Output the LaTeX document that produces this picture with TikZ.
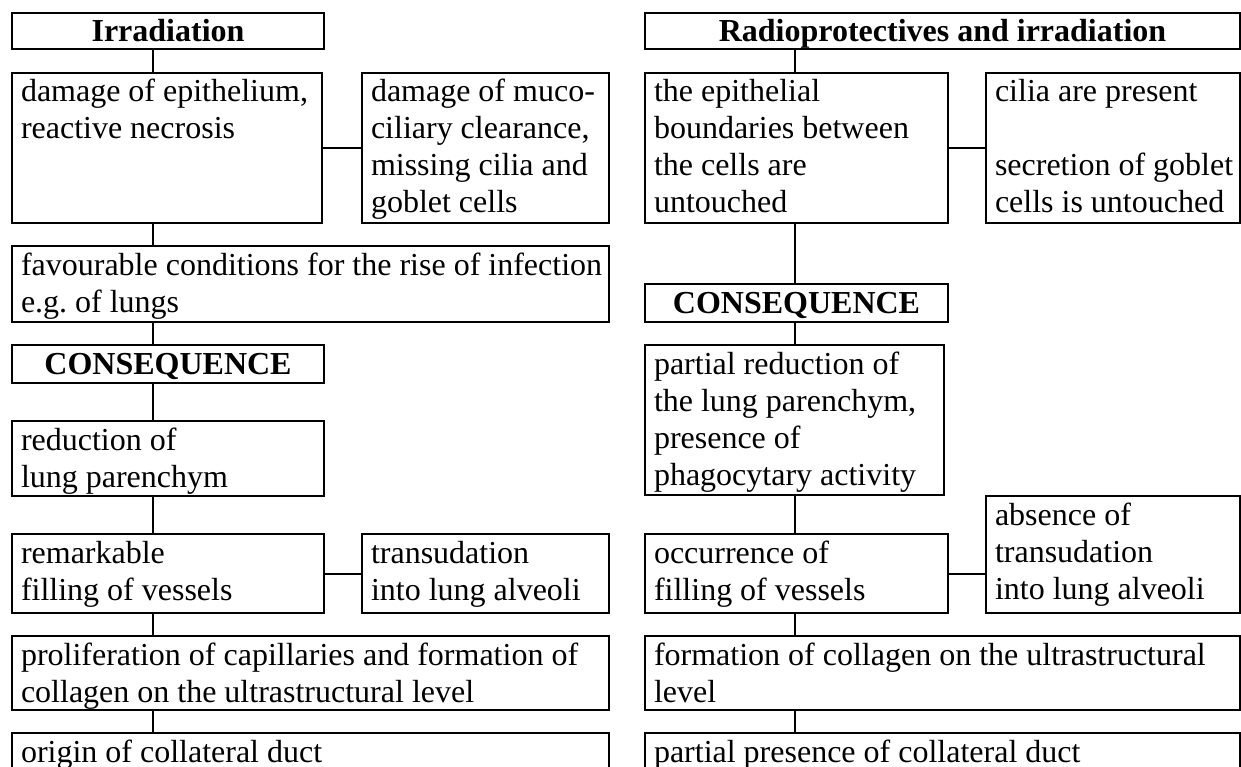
\documentclass[tikz,border=0pt]{standalone}
\usepackage{fontspec}
\setmainfont{Liberation Serif}
\frenchspacing

% top-aligned text of a box: width, height (pt), text
\newcommand{\celltext}[3]{\parbox[c][#2pt][t]{\dimexpr#1pt-12pt\relax}{\fontsize{32pt}{37pt}\selectfont\raggedright\leftskip=3pt\rule{0pt}{29pt}#3}}
\newcommand{\celltitle}[3]{\parbox[c][#2pt][t]{\dimexpr#1pt-12pt\relax}{\fontsize{32pt}{37pt}\selectfont\bfseries\centering\rule{0pt}{29pt}#3}}

\begin{document}
\begin{tikzpicture}[x=1pt, y=-1pt,
    cell/.style={draw, line width=2pt, anchor=north west, inner xsep=6pt, inner ysep=0pt},
    link/.style={line width=2pt},
]
\useasboundingbox (0,0) rectangle (1241,767);
\clip (0,0) rectangle (1241,767);
\coordinate (lx) at (153,0);
\coordinate (rx) at (795,0);

% Irradiation
\node[cell] (irr) at (11,12) {\celltitle{312}{36}{Irradiation}};
\node[cell] (epi) at (11,72) {\celltext{310}{150}{damage of epithelium,\\ reactive necrosis}};
\node[cell] (muco) at (361,72) {\celltext{247}{150}{damage of muco-\\ ciliary clearance,\\ missing cilia and\\ goblet cells}};
\node[cell] (fav) at (11,245) {\celltext{597}{76}{favourable conditions for the rise of infection\\ e.g. of lungs}};
\node[cell] (consl) at (11,344) {\celltitle{312}{38}{CONSEQUENCE}};
\node[cell] (red) at (11,420) {\celltext{312}{75}{reduction of\\ lung parenchym}};
\node[cell] (rem) at (11,533) {\celltext{312}{79}{remarkable\\ filling of vessels}};
\node[cell] (trans) at (361,533) {\celltext{247}{79}{transudation\\ into lung alveoli}};
\node[cell] (prol) at (11,635) {\celltext{597}{74}{proliferation of capillaries and formation of\\ collagen on the ultrastructural level}};
\node[cell] (orig) at (11,732) {\celltext{597}{60}{origin of collateral duct}};

\draw[link] (irr.south -| lx) -- (epi.north -| lx);
\draw[link] (epi.east) -- (muco.west);
\draw[link] (epi.south -| lx) -- (fav.north -| lx);
\draw[link] (fav.south -| lx) -- (consl.north -| lx);
\draw[link] (consl.south -| lx) -- (red.north -| lx);
\draw[link] (red.south -| lx) -- (rem.north -| lx);
\draw[link] (rem.east) -- (trans.west);
\draw[link] (rem.south -| lx) -- (prol.north -| lx);
\draw[link] (prol.south -| lx) -- (orig.north -| lx);

% Radioprotectives and irradiation
\node[cell] (radio) at (644,12) {\celltitle{595}{36}{Radioprotectives and irradiation}};
\node[cell] (epith) at (644,72) {\celltext{303}{150}{the epithelial\\ boundaries between\\ the cells are\\ untouched}};
\node[cell] (cilia) at (985,72) {\celltext{254}{150}{cilia are present\\ \mbox{}\\ secretion of goblet\\ cells is untouched}};
\node[cell] (consr) at (644,283) {\celltitle{303}{38}{CONSEQUENCE}};
\node[cell] (pred) at (644,344) {\celltext{299}{150}{partial reduction of\\ the lung parenchym,\\ presence of\\ phagocytary activity}};
\node[cell] (absn) at (985,495) {\celltext{254}{117}{absence of\\ transudation\\ into lung alveoli}};
\node[cell] (occ) at (644,533) {\celltext{303}{79}{occurrence of\\ filling of vessels}};
\node[cell] (form) at (644,635) {\celltext{595}{74}{formation of collagen on the ultrastructural\\ level}};
\node[cell] (pres) at (644,732) {\celltext{595}{60}{partial presence of collateral duct}};

\draw[link] (radio.south -| rx) -- (epith.north -| rx);
\draw[link] (epith.east) -- (cilia.west);
\draw[link] (epith.south -| rx) -- (consr.north -| rx);
\draw[link] (consr.south -| rx) -- (pred.north -| rx);
\draw[link] (pred.south -| rx) -- (occ.north -| rx);
\draw[link] (occ.east) -- (occ.east -| absn.west);
\draw[link] (occ.south -| rx) -- (form.north -| rx);
\draw[link] (form.south -| rx) -- (pres.north -| rx);
\end{tikzpicture}
\end{document}
